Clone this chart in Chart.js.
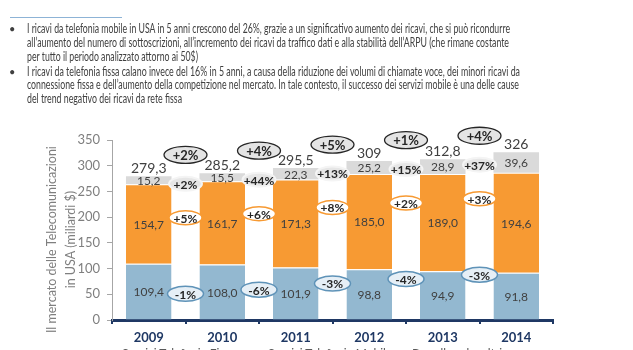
<!DOCTYPE html>
<html>
<head>
<meta charset="utf-8">
<script src="https://cdn.jsdelivr.net/npm/chart.js"></script>
<style>
  body { margin: 0; background: #fff; width: 633px; height: 350px; overflow: hidden; position: relative; font-family: Lato, 'Open Sans', sans-serif; }
  #wrap { position: absolute; left: 0; top: 0; width: 633px; height: 350px; }
  .ln { position: absolute; white-space: nowrap; font-size: 12.5px; line-height: 14px; color: #404040; transform-origin: 0 50%; }
  .bul { position: absolute; font-size: 11px; line-height: 14px; color: #404040; left: 9px; }
  .leg { position: absolute; top: 345px; font-size: 12px; color: #595959; white-space: nowrap; }
  #rule { position: absolute; left: 10px; top: 17px; width: 112px; height: 1px; background: #8db3d6; }
</style>
</head>
<body>
<div id="wrap"><canvas id="myChart" width="633" height="350"></canvas></div>
<div id="rule"></div>
<div class="bul" style="top:22px">•</div>
<div class="bul" style="top:65px">•</div>
<div class="ln" data-w="483" style="left:27px;top:22px">I ricavi da telefonia mobile in USA in 5 anni crescono del 26%, grazie a un significativo aumento dei ricavi, che si può ricondurre</div>
<div class="ln" data-w="482" style="left:27px;top:36px">all’aumento del numero di sottoscrizioni, all’incremento dei ricavi da traffico dati e alla stabilità dell’ARPU (che rimane costante</div>
<div class="ln" data-w="171" style="left:27px;top:50px">per tutto il periodo analizzato attorno ai 50$)</div>
<div class="ln" data-w="493" style="left:27px;top:65px">I ricavi da telefonia fissa calano invece del 16% in 5 anni, a causa della riduzione dei volumi di chiamate voce, dei minori ricavi da</div>
<div class="ln" data-w="492" style="left:27px;top:78px">connessione fissa e dell’aumento della competizione nel mercato. In tale contesto, il successo dei servizi mobile è una delle cause</div>
<div class="ln" data-w="155" style="left:27px;top:92px">del trend negativo dei ricavi da rete fissa</div>
<div class="leg" style="left:122px">Servizi Telefonia Fissa</div>
<div class="leg" style="left:268px">Servizi Telefonia Mobile</div>
<div class="leg" style="left:412px">Broadband e altri</div>
<script>
const years = ['2009', '2010', '2011', '2012', '2013', '2014']
const fisso = [109.4, 108.0, 101.9, 98.8, 94.9, 91.8]
const mobile = [154.7, 161.7, 171.3, 185.0, 189.0, 194.6]
const altri = [15.2, 15.5, 22.3, 25.2, 28.9, 39.6]
const totali = [279.3, 285.2, 295.5, 309, 312.8, 326]
const crescitaTot = ['+2%', '+4%', '+5%', '+1%', '+4%']
const crescitaAltri = ['+2%', '+44%', '+13%', '+15%', '+37%']
const crescitaMobile = ['+5%', '+6%', '+8%', '+2%', '+3%']
const crescitaFisso = ['-1%', '-6%', '-3%', '-4%', '-3%']
const yTicks = [0, 50, 100, 150, 200, 250, 300, 350]

const FONT = 'Lato, "Open Sans", sans-serif'
const PAD = '\u00a0\u00a0\u00a0\u00a0\u00a0\u00a0'

function fmt(v) {
  return v.toFixed(1).replace('.', ',')
}

document.querySelectorAll('.ln').forEach(function (el) {
  const w = el.getBoundingClientRect().width
  el.style.transform = 'scaleX(' + (el.dataset.w / w) + ')'
})

// labels inside the bars, totals on top and the growth ovals between bars
const etichette = {
  id: 'etichette',
  afterDatasetsDraw: function (chart) {
    const ctx = chart.ctx
    const y = chart.scales.y
    ctx.save()
    ctx.textAlign = 'center'
    ctx.textBaseline = 'middle'
    ctx.fillStyle = '#404040'
    ctx.font = '12px ' + FONT
    chart.data.datasets.forEach(function (ds, d) {
      chart.getDatasetMeta(d).data.forEach(function (bar, i) {
        ctx.fillText(fmt(ds.data[i]), bar.x, (bar.y + bar.base) / 2 + 1)
      })
    })
    ctx.font = '14px ' + FONT
    const top = chart.getDatasetMeta(2).data
    top.forEach(function (bar, i) {
      ctx.fillText(String(totali[i]).replace('.', ','), bar.x, bar.y - 8)
    })

    function ovale(cx, cy, w, h, fill, stroke, lw, txt, size) {
      ctx.beginPath()
      ctx.ellipse(cx, cy, w / 2, h / 2, 0, 0, Math.PI * 2)
      ctx.fillStyle = fill
      ctx.fill()
      ctx.lineWidth = lw
      ctx.strokeStyle = stroke
      ctx.stroke()
      ctx.fillStyle = '#262626'
      ctx.font = 'bold ' + size + 'px ' + FONT
      ctx.fillText(txt, cx, cy + 1)
    }

    for (let i = 0; i < crescitaTot.length; i++) {
      const cx = (top[i].x + top[i + 1].x) / 2
      const base = y.getPixelForValue((totali[i] + totali[i + 1]) / 2) - 20
      ovale(cx, base, 43, 17, '#e4e4e4', '#262626', 1.3, crescitaTot[i], 13)
      ovale(cx, base + 29, 33, 14, '#e6e6e6', '#f4f4f4', 2, crescitaAltri[i], 12)
      ovale(cx, base + 63, 33, 14, '#ffffff', '#f79a33', 1.5, crescitaMobile[i], 12)
      ovale(cx, base + 139, 36, 15, '#e6eff6', '#5f93b8', 1.5, crescitaFisso[i], 12)
    }
    ctx.restore()
  },
}

const ctx = document.getElementById('myChart')

const myChart = new Chart(ctx, {
  type: 'bar',
  data: {
    labels: years,
    datasets: [
      {
        label: 'Servizi Telefonia Fissa',
        data: fisso,
        backgroundColor: '#93b8d0',
        borderColor: '#ffffff',
        borderWidth: { top: 1, bottom: 0, left: 0, right: 0 },
        borderSkipped: false,
      },
      {
        label: 'Servizi Telefonia Mobile',
        data: mobile,
        backgroundColor: '#f79a33',
        borderColor: '#ffffff',
        borderWidth: { top: 1, bottom: 0, left: 0, right: 0 },
        borderSkipped: false,
      },
      {
        label: 'Broadband e altri',
        data: altri,
        backgroundColor: '#dadada',
        borderColor: '#ffffff',
        borderWidth: 0,
      },
    ],
  },
  options: {
    responsive: false,
    animation: false,
    events: [],
    layout: { padding: { left: 37, top: 140, right: 80, bottom: 0 } },
    datasets: { bar: { categoryPercentage: 1, barPercentage: 0.62 } },
    plugins: {
      legend: { display: false },
      tooltip: { enabled: false },
    },
    scales: {
      x: {
        stacked: true,
        afterFit: function (s) { s.height = 30 },
        grid: { offset: true, drawOnChartArea: false, tickLength: 4, color: '#1f3864', lineWidth: 2 },
        border: { color: '#1f3864', width: 3 },
        ticks: { color: '#1f3864', padding: 6, font: { family: FONT, size: 13, weight: 'bold' } },
      },
      y: {
        stacked: true,
        min: 0,
        max: 350,
        afterFit: function (s) { s.width = 75 },
        afterBuildTicks: function (s) { s.ticks = yTicks.map(function (v) { return { value: v } }) },
        grid: { drawOnChartArea: false, tickLength: 5, color: '#a6a6a6' },
        border: { color: '#a6a6a6', width: 1 },
        ticks: { color: '#7f7f7f', padding: 7, font: { family: FONT, size: 13 } },
        title: {
          display: true,
          text: ['Il mercato delle Telecomunicazioni' + PAD, 'in USA (miliardi $)' + PAD],
          color: '#7f7f7f',
          padding: { top: 6, bottom: 0 },
          font: { family: FONT, size: 12.5, lineHeight: 1.5 },
        },
      },
    },
  },
  plugins: [etichette],
})
</script>
</body>
</html>
